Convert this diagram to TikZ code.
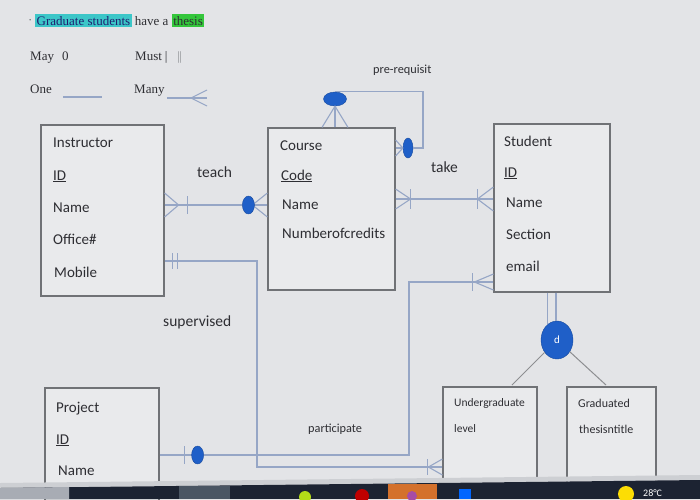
\documentclass[tikz,border=0pt]{standalone}
\usepackage{fontspec}
\setmainfont{Carlito}
\newfontfamily\legendfont{Liberation Serif}
\usetikzlibrary{positioning,shapes.geometric}
\setlength{\fboxsep}{1.5pt}
\definecolor{bgscreen}{HTML}{E3E4E7}
\definecolor{boxfill}{HTML}{E9EAEC}
\definecolor{boxline}{HTML}{707276}
\definecolor{relline}{HTML}{96A6C6}
\definecolor{dotblue}{HTML}{1F5FC8}
\definecolor{inktext}{HTML}{2E2E33}
\definecolor{hlcyan}{HTML}{3CC6C8}
\definecolor{hlgreen}{HTML}{34C63B}
\definecolor{barnavy}{HTML}{1C2332}
\definecolor{bezel}{HTML}{CDCFD3}
\definecolor{taskgray}{HTML}{A8ACB4}
\definecolor{taskslate}{HTML}{4A5563}
\definecolor{taskorange}{HTML}{D4712C}
\tikzset{
  entity/.style={draw=boxline, line width=1.2pt, fill=boxfill, rectangle, inner sep=0pt},
  attr/.style={anchor=base west, inner sep=0pt, text=inktext, font=\fontsize{15}{15}\selectfont},
  small attr/.style={attr, font=\fontsize{11.5}{12}\selectfont},
  rlabel/.style={attr, font=\fontsize{15.5}{16}\selectfont},
  small rlabel/.style={attr, font=\fontsize{12.3}{13}\selectfont},
  legend/.style={anchor=base west, inner sep=0pt, text=inktext, font=\legendfont\fontsize{13}{13}\selectfont},
  rel/.style={draw=relline, line width=1.1pt},
  dot/.style={ellipse, fill=dotblue, draw=dotblue!80!black, line width=0.4pt, inner sep=0pt},
}
\begin{document}
\begin{tikzpicture}[x=1pt,y=-1pt]
\useasboundingbox (0,0) rectangle (700,499);
\clip (0,0) rectangle (700,499);
\fill[bgscreen] (0,0) rectangle (700,499);

\node[legend] (bullet) at (28,24) {\textcolor{boxline}{·}};
\node[legend] (note) at (35,25) {\colorbox{hlcyan}{\textcolor{blue!30!inktext}{Graduate students}} have a \colorbox{hlgreen}{thesis}};
\node[legend] (may) at (30,60) {May\hspace{8pt}0};
\node[legend] (must) at (135,60) {Must\hspace{3pt}|\hspace{9pt}\textcolor{boxline}{$\|$}};
\node[legend] (one) at (30,93) {One};
\node[legend] (many) at (134,93) {Many};
\coordinate (oneA) at (63,97);
\coordinate (oneB) at (102,97);
\coordinate (manyA) at (167,98);
\coordinate (manyB) at (207,98);
\draw[rel] (oneA) -- (oneB);
\draw[rel] (manyA) -- (manyB);
\draw[rel] ([yshift=8pt]manyB) -- ([xshift=-16pt]manyB) -- ([yshift=-8pt]manyB);

\node[entity, minimum width=123pt, minimum height=171pt] (instr) at (102.5,210.5) {};
\node[entity, minimum width=127pt, minimum height=162pt] (course) at (331.5,209) {};
\node[entity, minimum width=116pt, minimum height=168pt] (student) at (552,208) {};
\node[entity, minimum width=114pt, minimum height=122pt] (project) at (102,449) {};
\node[entity, minimum width=94pt, minimum height=103pt] (under) at (490,438.5) {};
\node[entity, minimum width=89pt, minimum height=103pt] (grad) at (611.5,438.5) {};

\node[attr] (instrTitle) at (53,147) {Instructor};
\node[attr] (instrId) at (53,180) {\underline{ID}};
\node[attr] (instrName) at (53,212) {Name};
\node[attr] (instrOffice) at (53,244) {Office\#};
\node[attr] (instrMobile) at (54,277) {Mobile};

\node[attr] (courseTitle) at (280,150) {Course};
\node[attr] (courseCode) at (281,180) {\underline{Code}};
\node[attr] (courseName) at (282,209) {Name};
\node[attr] (courseCredits) at (282,238) {Numberofcredits};

\node[attr] (studentTitle) at (504,146) {Student};
\node[attr] (studentId) at (504,177) {\underline{ID}};
\node[attr] (studentName) at (506,207) {Name};
\node[attr] (studentSection) at (506,239) {Section};
\node[attr] (studentEmail) at (506,271) {email};

\node[attr] (projectTitle) at (56,412) {Project};
\node[attr] (projectId) at (56,444) {\underline{ID}};
\node[attr] (projectName) at (58,475) {Name};

\node[small attr] (underTitle) at (454,406) {Undergraduate};
\node[small attr] (underLevel) at (454,432) {level};
\node[small attr, font=\fontsize{12}{12}\selectfont] (gradTitle) at (578,407) {Graduated};
\node[small attr, font=\fontsize{12}{12}\selectfont] (gradThesis) at (579,433) {thesisntitle};

\node[rlabel] (teachLbl) at (197,177) {teach};
\node[rlabel] (takeLbl) at (431,172) {take};
\node[small rlabel] (preLbl) at (373,73) {pre-requisit};
\node[rlabel] (supLbl) at (163,326) {supervised};
\node[small rlabel] (partLbl) at (308,432) {participate};

\coordinate (teachA) at (instr.east |- 0,205);
\coordinate (teachB) at (course.west |- 0,205);
\coordinate (takeA) at (course.east |- 0,199);
\coordinate (takeB) at (student.west |- 0,199);
\coordinate (supA) at (instr.east |- 0,261);
\coordinate (supTurn) at (257,467);
\coordinate (supB) at (under.west |- 0,467);
\coordinate (partA) at (student.west |- 0,282);
\coordinate (partTurn) at (409,455);
\coordinate (partB) at (project.east |- 0,455);
\coordinate (preFoot) at (course.north -| 335,0);
\coordinate (preCorner) at (423,148);
\coordinate (preSideFoot) at (course.east |- 0,148);
\coordinate (ugTip) at (512,385);
\coordinate (gradTip) at (606,385);

\draw[rel] (teachA) -- (teachB);
\draw[rel] ([yshift=12pt]teachA) -- ([xshift=14pt]teachA) -- ([yshift=-12pt]teachA);
\draw[rel] ([xshift=23pt,yshift=9pt]teachA) -- ([xshift=23pt,yshift=-9pt]teachA);
\draw[rel] ([yshift=12pt]teachB) -- ([xshift=-15pt]teachB) -- ([yshift=-12pt]teachB);
\node[dot, minimum width=12pt, minimum height=18pt] (teachDot) at ([xshift=-19pt]teachB) {};

\draw[rel] (takeA) -- (takeB);
\draw[rel] ([yshift=10pt]takeA) -- ([xshift=15pt]takeA) -- ([yshift=-10pt]takeA);
\draw[rel] ([xshift=15pt,yshift=10pt]takeA) -- ([xshift=15pt,yshift=-10pt]takeA);
\draw[rel] ([yshift=12pt]takeB) -- ([xshift=-16pt]takeB) -- ([yshift=-12pt]takeB);
\draw[rel] ([xshift=-16pt,yshift=10pt]takeB) -- ([xshift=-16pt,yshift=-10pt]takeB);

\node[dot, minimum width=23pt, minimum height=14pt] (preTop) at (335,99) {};
\node[dot, minimum width=10pt, minimum height=20pt] (preSide) at (408,148) {};
\draw[rel] (preTop.north) -| (preCorner) -- (preSide.east);
\draw[rel] ([xshift=-13pt]preFoot) -- (preTop.south) -- ([xshift=13pt]preFoot);
\draw[rel] (preFoot) -- (preTop.south);
\draw[rel] ([yshift=8pt]preSideFoot) -- (preSide.west) -- ([yshift=-8pt]preSideFoot);
\draw[rel] (preSideFoot) -- (preSide.west);

\draw[rel] (supA) -| (supTurn) -- (supB);
\draw[rel] ([xshift=8pt,yshift=8pt]supA) -- ([xshift=8pt,yshift=-8pt]supA);
\draw[rel] ([xshift=13pt,yshift=8pt]supA) -- ([xshift=13pt,yshift=-8pt]supA);
\draw[rel] ([yshift=8pt]supB) -- ([xshift=-14pt]supB) -- ([yshift=-8pt]supB);
\draw[rel] ([xshift=-15pt,yshift=8pt]supB) -- ([xshift=-15pt,yshift=-8pt]supB);

\draw[rel] (partA) -| (partTurn) -- (partB);
\draw[rel] ([yshift=8pt]partA) -- ([xshift=-19pt]partA) -- ([yshift=-8pt]partA);
\draw[rel] ([xshift=-21pt,yshift=9pt]partA) -- ([xshift=-21pt,yshift=-9pt]partA);
\draw[rel] ([xshift=25pt,yshift=9pt]partB) -- ([xshift=25pt,yshift=-9pt]partB);
\node[dot, minimum width=12pt, minimum height=18pt] (partDot) at ([xshift=38pt]partB) {};

\node[dot, minimum width=32pt, minimum height=38pt, text=white, font=\fontsize{11}{11}\selectfont] (dsplit) at (557,340) {d};
\draw[rel] (dsplit.120 |- student.south) -- (dsplit.120);
\draw[rel] (dsplit.93 |- student.south) -- (dsplit.93);
\draw[draw=boxline!80, line width=1pt] (dsplit) -- (ugTip);
\draw[draw=boxline!80, line width=1pt] (dsplit) -- (gradTip);

\fill[bezel] (0,483) -- (700,475) -- (700,480) -- (0,488) -- cycle;
\fill[barnavy] (0,488) -- (700,480) -- (700,499) -- (0,499) -- cycle;
\fill[taskgray] (0,488) -- (69,487) -- (69,499) -- (0,499) -- cycle;
\fill[taskslate] (179,486) rectangle (230,499);
\fill[taskorange] (388,484) rectangle (437,499);
\fill[yellow!70!green] (305,497) circle[radius=6pt];
\fill[red!75!black] (362,496) circle[radius=7pt];
\fill[violet!70] (412,496) circle[radius=5pt];
\fill[blue!60!cyan] (459,489) rectangle (471,499);
\fill[yellow!80!orange] (626,494) circle[radius=8pt];
\node[anchor=base west, inner sep=0pt, text=white, font=\fontsize{10}{10}\selectfont] (temp) at (643,496) {28°C};
\end{tikzpicture}
\end{document}
